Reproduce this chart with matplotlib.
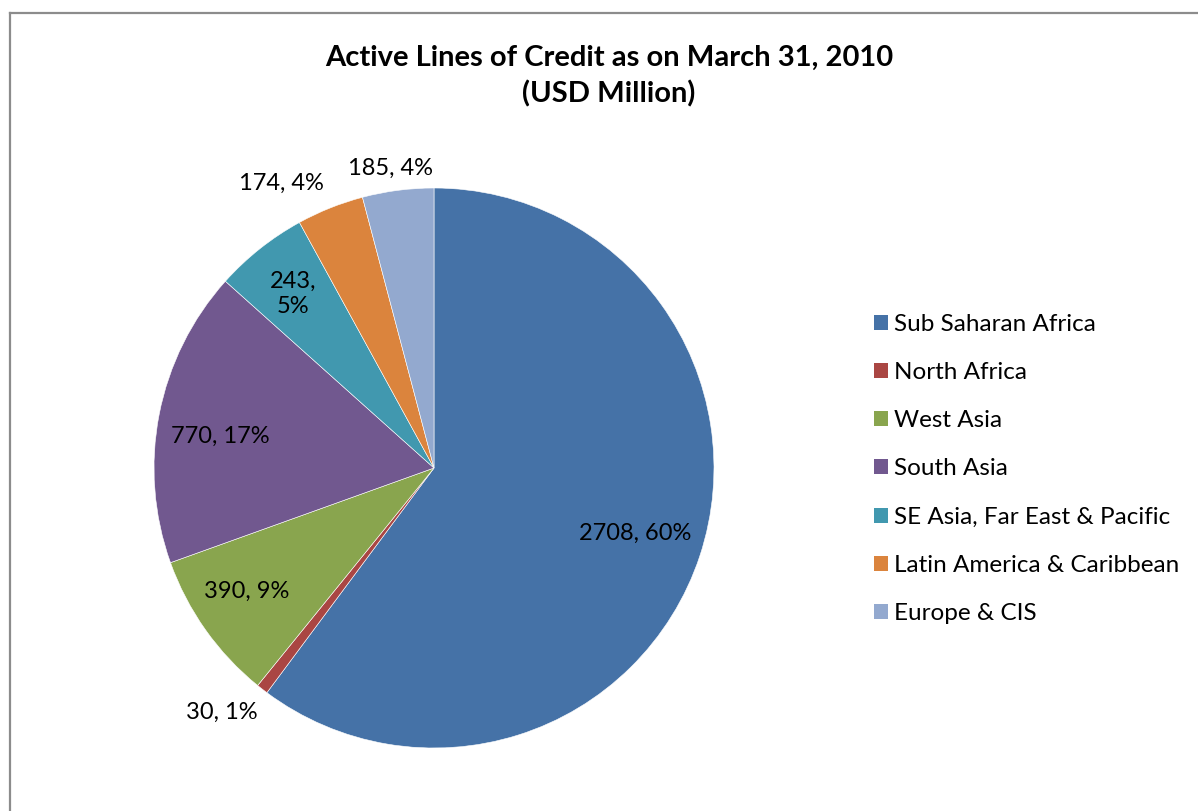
import numpy as np
import matplotlib
matplotlib.use("Agg")
import matplotlib.pyplot as plt
from matplotlib.patches import Patch
from matplotlib.lines import Line2D

categories = ["Sub Saharan Africa", "North Africa", "West Asia", "South Asia",
              "SE Asia, Far East & Pacific", "Latin America & Caribbean", "Europe & CIS"]
values = [2708, 30, 390, 770, 243, 174, 185]
colors = ["#4572A7", "#AA4643", "#89A54E", "#71588F", "#4198AF", "#DB843D", "#93A9CF"]
title = "Active Lines of Credit as on March 31, 2010\n(USD Million)"

# label placement (radius factor, angle offset in degrees)
label_r = [0.755, 1.155, 0.80, 0.77, 0.80, 1.155, 1.08]
label_da = [0.4, -3.2, -1.9, 2.7, 0.6, 6.4, 0.8]
label_sep = [", ", ", ", ", ", ", ", ",\n", ", ", ", "]

FONT = "Lato"
W, H = 1198, 811
fig = plt.figure(figsize=(W / 100, H / 100), dpi=100)

# chart border (left and top visible)
fig.add_artist(Line2D([10 / W, 10 / W], [0, 1 - 13 / H], transform=fig.transFigure,
                      color="#8c8c8c", lw=1.6))
fig.add_artist(Line2D([10 / W, 1], [1 - 13 / H, 1 - 13 / H], transform=fig.transFigure,
                      color="#8c8c8c", lw=1.6))

cx, cy, R = 434, 468, 280
ax = fig.add_axes([(cx - R) / W, (H - cy - R) / H, 2 * R / W, 2 * R / H])
wedges, _ = ax.pie(values, colors=colors, startangle=90, counterclock=False, radius=1,
                   wedgeprops=dict(edgecolor="white", linewidth=0.4))
ax.set_xlim(-1, 1)
ax.set_ylim(-1, 1)
ax.set_aspect("equal")
ax.axis("off")

total = sum(values)
for w, v, r, da, sep in zip(wedges, values, label_r, label_da, label_sep):
    mid = np.deg2rad((w.theta1 + w.theta2) / 2 + da)
    pct = round(v / total * 100)
    ax.text(r * np.cos(mid), r * np.sin(mid), f"{v}{sep}{pct}%", ha="center", va="center",
            fontsize=17, family=FONT, color="black", clip_on=False, linespacing=1.25)

fig.text(609 / W, 1 - 76 / H, title, ha="center", va="center", fontsize=21,
         fontweight="bold", family=FONT, linespacing=1.45)

handles = [Patch(facecolor=c, edgecolor="none") for c in colors]
fig.legend(handles, categories, loc="upper left", bbox_to_anchor=(864 / W, 1 - 304 / H),
           frameon=False, prop=dict(family=FONT, size=17.5), handlelength=0.57,
           handleheight=0.57, handletextpad=0.28, labelspacing=1.12, borderaxespad=0)

fig.savefig("out.png", dpi=100, facecolor="white")
